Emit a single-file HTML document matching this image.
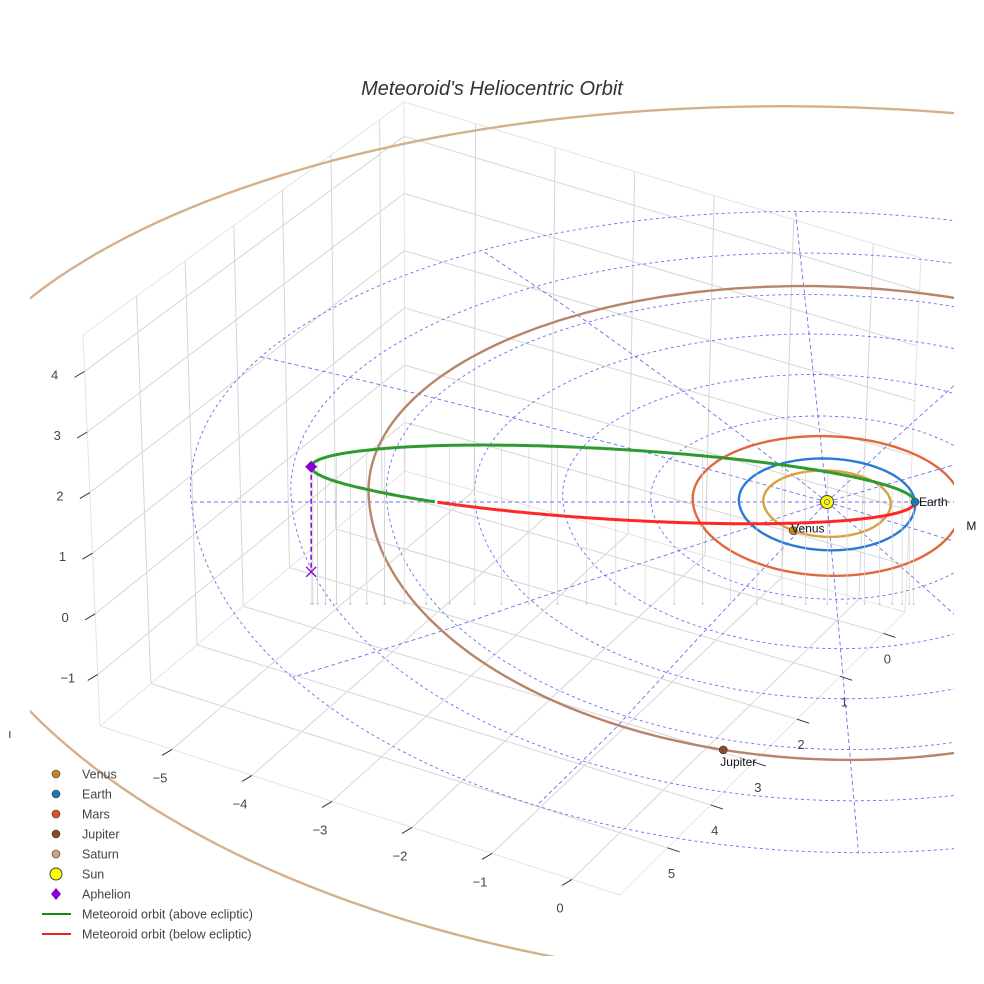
<!DOCTYPE html>
<html><head><meta charset="utf-8"><title>Meteoroid's Heliocentric Orbit</title>
<style>
html,body{margin:0;padding:0;background:#fff;}
svg{display:block;font-family:"Liberation Sans",sans-serif;}
</style></head>
<body>
<svg id="chart" width="984" height="984" viewBox="0 0 984 984" xmlns="http://www.w3.org/2000/svg">
  <defs>
    <clipPath id="plotclip"><rect x="30" y="0" width="924" height="956"/></clipPath>
    <clipPath id="labelclip"><rect x="0" y="0" width="976" height="984"/></clipPath>
  </defs>
  <rect x="0" y="0" width="984" height="984" fill="#fff"/>
  <text x="492" y="95" text-anchor="middle" font-size="20" font-style="italic" fill="#333">Meteoroid's Heliocentric Orbit</text>
  <g id="box"></g>
  <g id="ticks"></g>
  <g id="plot" clip-path="url(#plotclip)"></g>
  <g id="labels" clip-path="url(#labelclip)"></g>
  <g id="legend"></g>
</svg>
<script>
// ---------- data ----------
const xTicks = [-5, -4, -3, -2, -1, 0];
const yTicks = [0, 1, 2, 3, 4, 5];
const zTicks = [-1, 0, 1, 2, 3, 4];
const xRange = [-5.9, 0.6];
const yRange = [-0.5, 6.1];
const zRange = [-1.85, 4.6];

const planetNames = ['Venus', 'Earth', 'Mars', 'Jupiter', 'Saturn'];
const planetRadii = [0.723, 1.0, 1.524, 5.203, 9.537];
const planetAnglesDeg = [-125, 0, -15, -106, 40];
const ringRadii = [1, 2, 3, 4, 5, 6, 7];
const spokeAnglesDeg = [0, 30, 60, 90, 120, 150, 180, 210, 240, 270, 300, 330];
const spokeLength = [7];

const perihelionAU = [1.0];
const aphelionAU = [5.8];
const meteorZCoef = [0.32, -0.32, 0.64]; // z = c0 + c1 cosE + c2 sinE
const aphelionZ = [0.64];
const aphelionProjZ = [-1.27];

// styles (not data)
const planetOrbitColors = ['#daa040', '#2a7bd8', '#e0683c', '#b8846a', '#d4b08c'];
const planetMarkerColors = ['#c8861e', '#1f77b4', '#d9541e', '#8b4a2b', '#c8a27a'];

const NS = 'http://www.w3.org/2000/svg';
function mk(tag, attrs, parent) {
  const el = document.createElementNS(NS, tag);
  for (const k in attrs) el.setAttribute(k, attrs[k]);
  parent.appendChild(el);
  return el;
}

// ---------- box projection (trilinear between measured corners) ----------
const cB = {d:[405,471], c:[905,612], a:[100,726], b:[620,895]};
const cT = {d:[404,102], c:[921,258], a:[83,335], b:[628,485]};
function lerp(p, q, t) { return [p[0] + (q[0]-p[0])*t, p[1] + (q[1]-p[1])*t]; }
function box(x, y, z) {
  const u = (x - xRange[0]) / (xRange[1] - xRange[0]);
  const v = (y - yRange[0]) / (yRange[1] - yRange[0]);
  const w = (z - zRange[0]) / (zRange[1] - zRange[0]);
  const bot = lerp(lerp(cB.d, cB.c, u), lerp(cB.a, cB.b, u), v);
  const top = lerp(lerp(cT.d, cT.c, u), lerp(cT.a, cT.b, u), v);
  return lerp(bot, top, w);
}

// ---------- ecliptic projection ----------
function rxs(r) { return 88 + 1.56 * Math.max(0, r - 5.2); }
function ecl(X, Y, Z) {
  const r = Math.hypot(X, Y);
  const ky = Y > 0 ? (44 - 0.5 * Math.min(r, 5)) : (48 + 0.3 * r);
  return [827 + rxs(r) * X - 4.5 * Y, 502 - ky * Y - 55 * (Z || 0)];
}
function polyPath(pts) { return pts.map((p, i) => (i ? 'L' : 'M') + p[0].toFixed(1) + ' ' + p[1].toFixed(1)).join(''); }
function ringPts(r) {
  const pts = [];
  for (let i = 0; i <= 240; i++) { const t = i / 240 * 2 * Math.PI; pts.push(ecl(r * Math.cos(t), r * Math.sin(t), 0)); }
  return pts;
}

// ---------- draw box ----------
const boxG = document.getElementById('box');
function seg(p, q, stroke, name) {
  const l = mk('line', {x1:p[0], y1:p[1], x2:q[0], y2:q[1], stroke:stroke, 'stroke-width':1}, boxG);
  
  
}
const gc = '#d6d6d6';
xTicks.forEach(x => seg(box(x, yRange[0], zRange[0]), box(x, yRange[1], zRange[0]), gc, 'floor-gridline-x'));
yTicks.forEach(y => seg(box(xRange[0], y, zRange[0]), box(xRange[1], y, zRange[0]), gc, 'floor-gridline-y'));
xTicks.forEach(x => seg(box(x, yRange[0], zRange[0]), box(x, yRange[0], zRange[1]), gc, 'back-wall-gridline-x'));
zTicks.forEach(z => seg(box(xRange[0], yRange[0], z), box(xRange[1], yRange[0], z), gc, 'back-wall-gridline-z'));
yTicks.forEach(y => seg(box(xRange[0], y, zRange[0]), box(xRange[0], y, zRange[1]), gc, 'left-wall-gridline-y'));
zTicks.forEach(z => seg(box(xRange[0], yRange[0], z), box(xRange[0], yRange[1], z), gc, 'left-wall-gridline-z'));
const ec = '#e4e4e4';
[[[0,0,0],[1,0,0]],[[1,0,0],[1,1,0]],[[1,1,0],[0,1,0]],[[0,1,0],[0,0,0]],
 [[0,0,0],[0,0,1]],[[1,0,0],[1,0,1]],[[0,1,0],[0,1,1]],
 [[0,0,1],[1,0,1]],[[0,0,1],[0,1,1]]].forEach(e => {
  const f = c => box(xRange[c[0]], yRange[c[1]], zRange[c[2]]);
  seg(f(e[0]), f(e[1]), ec, 'box-edge');
});

// ---------- ticks ----------
const tickG = document.getElementById('ticks');
xTicks.forEach(x => {
  const p = box(x, yRange[1], zRange[0]);
  const t = mk('line', {x1:p[0], y1:p[1], x2:p[0]-10, y2:p[1]+6, stroke:'#333', 'stroke-width':1}, tickG);
   
  const l = mk('text', {x:p[0]-12, y:p[1]+33, 'text-anchor':'middle', 'font-size':13, fill:'#444'}, tickG);
  l.textContent = x < 0 ? '\u2212' + Math.abs(x) : String(x);
   
});
yTicks.forEach(y => {
  const p = box(xRange[1], y, zRange[0]);
  const t = mk('line', {x1:p[0], y1:p[1], x2:p[0]+12, y2:p[1]+4, stroke:'#333', 'stroke-width':1}, tickG);
   
  const l = mk('text', {x:p[0]+4, y:p[1]+30, 'text-anchor':'middle', 'font-size':13, fill:'#444'}, tickG);
  l.textContent = String(y);
   
});
zTicks.forEach(z => {
  const p = box(xRange[0], yRange[1], z);
  const t = mk('line', {x1:p[0], y1:p[1], x2:p[0]-10, y2:p[1]+6, stroke:'#333', 'stroke-width':1}, tickG);
   
  const l = mk('text', {x:p[0]-30, y:p[1]+8, 'text-anchor':'middle', 'font-size':13, fill:'#444'}, tickG);
  l.textContent = z < 0 ? '\u2212' + Math.abs(z) : String(z);
   
});
const frag = mk('text', {x:8, y:738, 'font-size':13, fill:'#444'}, tickG);
frag.textContent = 'ı';



// ---------- plot ----------
const plot = document.getElementById('plot');
ringRadii.forEach(r => {
  const p = mk('path', {d: polyPath(ringPts(r)) + 'Z', fill:'none', stroke:'#5555ee', 'stroke-width':0.9, 'stroke-dasharray':'3,3', opacity:0.85}, plot);
  
  
});
spokeAnglesDeg.forEach(a => {
  const t = a * Math.PI / 180, pts = [];
  for (let i = 0; i <= 20; i++) { const r = spokeLength[0] * i / 20; pts.push(ecl(r * Math.cos(t), r * Math.sin(t), 0)); }
  const p = mk('path', {d: polyPath(pts), fill:'none', stroke:'#5555ee', 'stroke-width':0.9, 'stroke-dasharray':'4,3', opacity:0.85}, plot);
  
  
});
planetRadii.forEach((r, i) => {
  const p = mk('path', {d: polyPath(ringPts(r)) + 'Z', fill:'none', stroke:planetOrbitColors[i], 'stroke-width':2.4}, plot);
  
  
});
// meteoroid orbit
const q = perihelionAU[0], Q = aphelionAU[0];
const a = (q + Q) / 2, e = (Q - q) / (Q + q);
function meteor(E) {
  const X = a * (Math.cos(E) - e);
  const Z = meteorZCoef[0] + meteorZCoef[1] * Math.cos(E) + meteorZCoef[2] * Math.sin(E);
  return {X: X, Y: 0, Z: Z};
}
for (let k = 1; k < 40; k++) {
  const E = k / 40 * 1.25 * Math.PI;
  const m = meteor(E);
  const p1 = ecl(m.X, m.Y, m.Z), p2 = ecl(m.X, m.Y, zRange[0]);
  const l = mk('line', {x1:p1[0], y1:p1[1], x2:p2[0], y2:p2[1], stroke:'#d2d2d2', 'stroke-width':0.7}, plot);
  
  
  const d = mk('circle', {cx:p2[0], cy:p2[1], r:0.9, fill:'#bbb'}, plot);
  
  
}
const above = [], below = [];
for (let i = 0; i <= 600; i++) {
  const E = i / 600 * 2 * Math.PI;
  const m = meteor(E);
  const p = ecl(m.X, m.Y, m.Z);
  if (m.Z >= 0 && E < 1.6 * Math.PI) above.push(p); else below.push(p);
}
const gPath = mk('path', {d: polyPath(above), fill:'none', stroke:'#2f9a2f', 'stroke-width':3}, plot);


const rPath = mk('path', {d: polyPath(below), fill:'none', stroke:'#ff2626', 'stroke-width':3}, plot);



const aph = ecl(-Q, 0, aphelionZ[0]);
const aphP = ecl(-Q, 0, aphelionProjZ[0]);
const dl = mk('line', {x1:aph[0], y1:aph[1], x2:aphP[0], y2:aphP[1], stroke:'#8a00d4', 'stroke-width':1.5, 'stroke-dasharray':'5,3'}, plot);


const dia = mk('path', {d:`M${aph[0]} ${aph[1]-6}L${aph[0]+6} ${aph[1]}L${aph[0]} ${aph[1]+6}L${aph[0]-6} ${aph[1]}Z`, fill:'#8a00d4'}, plot);


const xm = mk('path', {d:`M${aphP[0]-5} ${aphP[1]-5}L${aphP[0]+5} ${aphP[1]+5}M${aphP[0]+5} ${aphP[1]-5}L${aphP[0]-5} ${aphP[1]+5}`, stroke:'#8a00d4', 'stroke-width':1.3, fill:'none'}, plot);



const sun = mk('circle', {cx:827, cy:502, r:6.5, fill:'#ffff00', stroke:'#444', 'stroke-width':1}, plot);


const sunIn = mk('circle', {cx:827, cy:502, r:2.5, fill:'none', stroke:'#6666aa', 'stroke-width':1}, plot);



const labelG = document.getElementById('labels');
planetRadii.forEach((r, i) => {
  const t = planetAnglesDeg[i] * Math.PI / 180;
  const p = ecl(r * Math.cos(t), r * Math.sin(t), 0);
  const c = mk('circle', {cx:p[0], cy:p[1], r:4, fill:planetMarkerColors[i], stroke:'#333', 'stroke-width':0.6}, plot);
  
  
  let lx = p[0] + 4, ly = p[1] + 4, anchor = 'start';
  if (planetNames[i] === 'Jupiter') { lx = p[0] + 15; ly = p[1] + 16; anchor = 'middle'; }
  if (planetNames[i] === 'Venus') { lx = p[0] - 2; ly = p[1] + 2; }
  if (planetNames[i] === 'Mars') { lx = p[0] + 8; ly = p[1] + 9; }
  if (p[0] > -50 && p[0] < 1100 && p[1] > 0 && p[1] < 984) {
    const tx = mk('text', {x:lx, y:ly, 'font-size':12, fill:'#111', 'text-anchor':anchor}, labelG);
    tx.textContent = planetNames[i];
    
    
  }
});

// ---------- legend ----------
const legendLabels = ['Venus', 'Earth', 'Mars', 'Jupiter', 'Saturn', 'Sun', 'Aphelion', 'Meteoroid orbit (above ecliptic)', 'Meteoroid orbit (below ecliptic)'];
const lg = document.getElementById('legend');
legendLabels.forEach((name, i) => {
  const y = 774 + i * 20;
  const item = mk('g', {}, lg);
  
  
  if (i < 5) {
    mk('circle', {cx:56, cy:y, r:4, fill:planetMarkerColors[i], stroke:'#333', 'stroke-width':0.6}, item);
  } else if (i === 5) {
    mk('circle', {cx:56, cy:y, r:6, fill:'#ffff00', stroke:'#444', 'stroke-width':1}, item);
  } else if (i === 6) {
    mk('path', {d:`M56 ${y-6}L61 ${y}L56 ${y+6}L51 ${y}Z`, fill:'#8a00d4'}, item);
  } else {
    mk('line', {x1:42, y1:y, x2:71, y2:y, stroke: i === 7 ? '#138a13' : '#ee2222', 'stroke-width':2}, item);
  }
  const t = mk('text', {x:82, y:y+4.5, 'font-size':12.5, fill:'#444'}, item);
  t.textContent = name;
});
</script>
</body></html>
